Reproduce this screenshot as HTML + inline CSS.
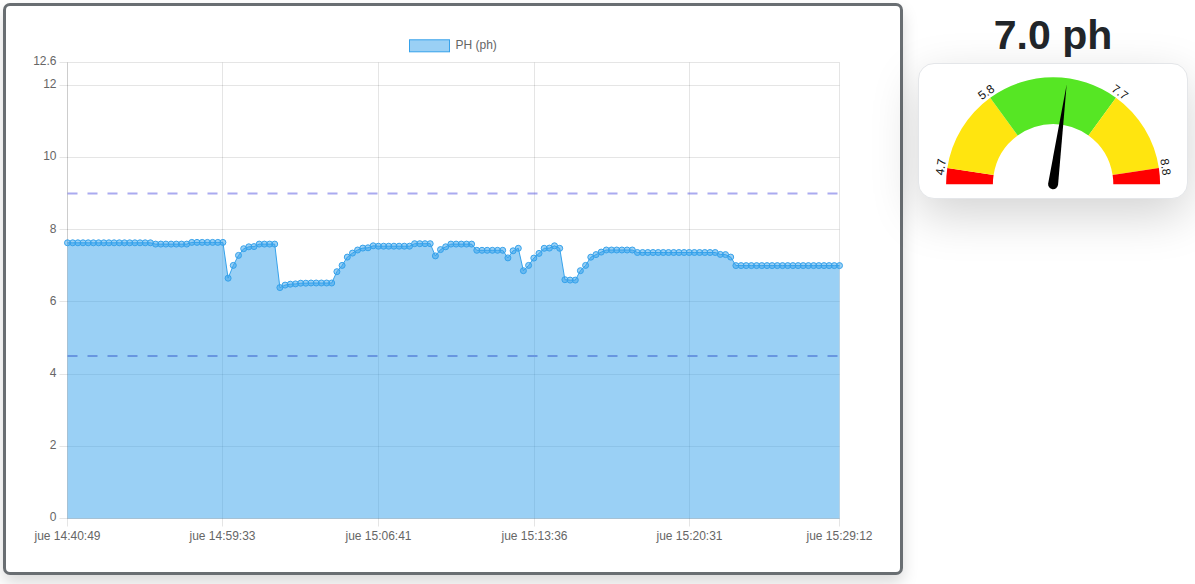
<!DOCTYPE html>
<html lang="es"><head><meta charset="utf-8"><title>PH</title>
<style>
html,body{margin:0;padding:0;background:#fff;}
body{width:1195px;height:584px;position:relative;overflow:hidden;font-family:"Liberation Sans",sans-serif;}
.chartbox{position:absolute;left:3px;top:3px;width:894px;height:566px;border:3px solid #696e72;border-radius:7px;background:#fff;box-shadow:0 8px 16px rgba(0,0,0,.15);}
.card{position:absolute;left:918px;top:63px;width:268px;height:134px;border:1px solid #e4e6e9;border-radius:16px;background:#fff;box-shadow:0 16px 48px rgba(0,0,0,.175);}
h1{position:absolute;left:919px;top:11px;width:268px;margin:0;text-align:center;font-size:41px;line-height:48px;font-weight:700;color:#212529;}
.t{font:12px "Liberation Sans",sans-serif;fill:#666;}
.g{font:12px "Liberation Sans",sans-serif;fill:#111;}
</style></head><body>
<div class="chartbox"></div>
<div class="card"></div>
<h1>7.0 ph</h1>
<svg width="1195" height="584" viewBox="0 0 1195 584" style="position:absolute;left:0;top:0">
<line x1="59.5" x2="839.5" y1="518.5" y2="518.5" stroke="rgba(0,0,0,0.1)" stroke-width="1"/>
<text x="56.5" y="521.4" text-anchor="end" class="t">0</text>
<line x1="59.5" x2="839.5" y1="446.5" y2="446.5" stroke="rgba(0,0,0,0.1)" stroke-width="1"/>
<text x="56.5" y="449.2" text-anchor="end" class="t">2</text>
<line x1="59.5" x2="839.5" y1="374.5" y2="374.5" stroke="rgba(0,0,0,0.1)" stroke-width="1"/>
<text x="56.5" y="377.0" text-anchor="end" class="t">4</text>
<line x1="59.5" x2="839.5" y1="301.5" y2="301.5" stroke="rgba(0,0,0,0.1)" stroke-width="1"/>
<text x="56.5" y="304.8" text-anchor="end" class="t">6</text>
<line x1="59.5" x2="839.5" y1="229.5" y2="229.5" stroke="rgba(0,0,0,0.1)" stroke-width="1"/>
<text x="56.5" y="232.6" text-anchor="end" class="t">8</text>
<line x1="59.5" x2="839.5" y1="157.5" y2="157.5" stroke="rgba(0,0,0,0.1)" stroke-width="1"/>
<text x="56.5" y="160.4" text-anchor="end" class="t">10</text>
<line x1="59.5" x2="839.5" y1="85.5" y2="85.5" stroke="rgba(0,0,0,0.1)" stroke-width="1"/>
<text x="56.5" y="88.2" text-anchor="end" class="t">12</text>
<line x1="59.5" x2="839.5" y1="62.5" y2="62.5" stroke="rgba(0,0,0,0.1)" stroke-width="1"/>
<text x="56.5" y="64.8" text-anchor="end" class="t">12.6</text>
<line x1="67.5" x2="67.5" y1="62.5" y2="526.5" stroke="rgba(0,0,0,0.1)" stroke-width="1"/>
<text x="67.5" y="539.6" text-anchor="middle" class="t">jue 14:40:49</text>
<line x1="222.5" x2="222.5" y1="62.5" y2="526.5" stroke="rgba(0,0,0,0.1)" stroke-width="1"/>
<text x="222.5" y="539.6" text-anchor="middle" class="t">jue 14:59:33</text>
<line x1="378.5" x2="378.5" y1="62.5" y2="526.5" stroke="rgba(0,0,0,0.1)" stroke-width="1"/>
<text x="378.5" y="539.6" text-anchor="middle" class="t">jue 15:06:41</text>
<line x1="534.5" x2="534.5" y1="62.5" y2="526.5" stroke="rgba(0,0,0,0.1)" stroke-width="1"/>
<text x="534.5" y="539.6" text-anchor="middle" class="t">jue 15:13:36</text>
<line x1="689.5" x2="689.5" y1="62.5" y2="526.5" stroke="rgba(0,0,0,0.1)" stroke-width="1"/>
<text x="689.5" y="539.6" text-anchor="middle" class="t">jue 15:20:31</text>
<line x1="839.5" x2="839.5" y1="62.5" y2="526.5" stroke="rgba(0,0,0,0.1)" stroke-width="1"/>
<text x="839.5" y="539.6" text-anchor="middle" class="t">jue 15:29:12</text>
<line x1="67.5" x2="67.5" y1="62.5" y2="518.5" stroke="rgba(0,0,0,0.1)" stroke-width="1"/>
<line x1="67.5" x2="839.5" y1="518.5" y2="518.5" stroke="rgba(0,0,0,0.1)" stroke-width="1"/>
<path d="M67.5,242.8 L72.7,242.8 L77.9,242.8 L83.0,242.8 L88.2,242.8 L93.4,242.8 L98.6,242.8 L103.8,242.8 L108.9,242.8 L114.1,242.8 L119.3,242.8 L124.5,242.8 L129.7,242.8 L134.9,242.8 L140.0,242.8 L145.2,242.8 L150.4,242.8 L155.6,244.1 L160.8,244.1 L165.9,244.1 L171.1,244.1 L176.3,244.1 L181.5,244.1 L186.7,244.1 L191.8,242.4 L197.0,242.4 L202.2,242.4 L207.4,242.4 L212.6,242.4 L217.8,242.4 L222.9,242.4 L228.1,278.2 L233.3,265.4 L238.5,255.4 L243.7,248.7 L248.8,246.8 L254.0,246.6 L259.2,244.1 L264.4,244.1 L269.6,244.1 L274.7,244.1 L279.9,287.6 L285.1,285.1 L290.3,284.2 L295.5,283.9 L300.7,283.2 L305.8,283.2 L311.0,283.0 L316.2,283.0 L321.4,283.0 L326.6,283.0 L331.7,283.0 L336.9,271.7 L342.1,265.4 L347.3,257.1 L352.5,253.1 L357.6,250.0 L362.8,248.1 L368.0,247.8 L373.2,245.8 L378.4,246.2 L383.6,246.2 L388.7,246.2 L393.9,246.2 L399.1,246.2 L404.3,246.2 L409.5,246.2 L414.6,243.7 L419.8,243.7 L425.0,243.7 L430.2,243.7 L435.4,255.9 L440.5,249.6 L445.7,246.8 L450.9,244.1 L456.1,244.1 L461.3,244.1 L466.5,244.1 L471.6,244.1 L476.8,250.3 L482.0,250.3 L487.2,250.3 L492.4,250.3 L497.5,250.3 L502.7,250.3 L507.9,257.9 L513.1,250.8 L518.3,248.3 L523.4,270.7 L528.6,265.4 L533.8,258.1 L539.0,253.4 L544.2,248.3 L549.4,248.1 L554.5,245.8 L559.7,248.3 L564.9,279.7 L570.1,280.1 L575.3,280.1 L580.4,270.7 L585.6,265.4 L590.8,257.2 L596.0,254.6 L601.2,252.1 L606.3,250.0 L611.5,250.0 L616.7,250.0 L621.9,250.0 L627.1,250.0 L632.3,250.0 L637.4,252.5 L642.6,252.5 L647.8,252.5 L653.0,252.5 L658.2,252.5 L663.3,252.5 L668.5,252.5 L673.7,252.5 L678.9,252.5 L684.1,252.5 L689.2,252.5 L694.4,252.5 L699.6,252.5 L704.8,252.5 L710.0,252.5 L715.2,252.5 L720.3,254.4 L725.5,254.6 L730.7,257.1 L735.9,265.6 L741.1,265.6 L746.2,265.6 L751.4,265.6 L756.6,265.6 L761.8,265.6 L767.0,265.6 L772.1,265.6 L777.3,265.6 L782.5,265.6 L787.7,265.6 L792.9,265.6 L798.1,265.6 L803.2,265.6 L808.4,265.6 L813.6,265.6 L818.8,265.6 L824.0,265.6 L829.1,265.6 L834.3,265.6 L839.5,265.6 L839.5,518.5 L67.5,518.5 Z" fill="rgba(54,162,235,0.5)"/>
<path d="M67.5,242.8 L72.7,242.8 L77.9,242.8 L83.0,242.8 L88.2,242.8 L93.4,242.8 L98.6,242.8 L103.8,242.8 L108.9,242.8 L114.1,242.8 L119.3,242.8 L124.5,242.8 L129.7,242.8 L134.9,242.8 L140.0,242.8 L145.2,242.8 L150.4,242.8 L155.6,244.1 L160.8,244.1 L165.9,244.1 L171.1,244.1 L176.3,244.1 L181.5,244.1 L186.7,244.1 L191.8,242.4 L197.0,242.4 L202.2,242.4 L207.4,242.4 L212.6,242.4 L217.8,242.4 L222.9,242.4 L228.1,278.2 L233.3,265.4 L238.5,255.4 L243.7,248.7 L248.8,246.8 L254.0,246.6 L259.2,244.1 L264.4,244.1 L269.6,244.1 L274.7,244.1 L279.9,287.6 L285.1,285.1 L290.3,284.2 L295.5,283.9 L300.7,283.2 L305.8,283.2 L311.0,283.0 L316.2,283.0 L321.4,283.0 L326.6,283.0 L331.7,283.0 L336.9,271.7 L342.1,265.4 L347.3,257.1 L352.5,253.1 L357.6,250.0 L362.8,248.1 L368.0,247.8 L373.2,245.8 L378.4,246.2 L383.6,246.2 L388.7,246.2 L393.9,246.2 L399.1,246.2 L404.3,246.2 L409.5,246.2 L414.6,243.7 L419.8,243.7 L425.0,243.7 L430.2,243.7 L435.4,255.9 L440.5,249.6 L445.7,246.8 L450.9,244.1 L456.1,244.1 L461.3,244.1 L466.5,244.1 L471.6,244.1 L476.8,250.3 L482.0,250.3 L487.2,250.3 L492.4,250.3 L497.5,250.3 L502.7,250.3 L507.9,257.9 L513.1,250.8 L518.3,248.3 L523.4,270.7 L528.6,265.4 L533.8,258.1 L539.0,253.4 L544.2,248.3 L549.4,248.1 L554.5,245.8 L559.7,248.3 L564.9,279.7 L570.1,280.1 L575.3,280.1 L580.4,270.7 L585.6,265.4 L590.8,257.2 L596.0,254.6 L601.2,252.1 L606.3,250.0 L611.5,250.0 L616.7,250.0 L621.9,250.0 L627.1,250.0 L632.3,250.0 L637.4,252.5 L642.6,252.5 L647.8,252.5 L653.0,252.5 L658.2,252.5 L663.3,252.5 L668.5,252.5 L673.7,252.5 L678.9,252.5 L684.1,252.5 L689.2,252.5 L694.4,252.5 L699.6,252.5 L704.8,252.5 L710.0,252.5 L715.2,252.5 L720.3,254.4 L725.5,254.6 L730.7,257.1 L735.9,265.6 L741.1,265.6 L746.2,265.6 L751.4,265.6 L756.6,265.6 L761.8,265.6 L767.0,265.6 L772.1,265.6 L777.3,265.6 L782.5,265.6 L787.7,265.6 L792.9,265.6 L798.1,265.6 L803.2,265.6 L808.4,265.6 L813.6,265.6 L818.8,265.6 L824.0,265.6 L829.1,265.6 L834.3,265.6 L839.5,265.6" fill="none" stroke="rgb(54,162,235)" stroke-width="1" stroke-linejoin="round"/>
<line x1="67.5" x2="839.5" y1="193.6" y2="193.6" stroke="rgba(85,85,225,0.5)" stroke-width="2" stroke-dasharray="10 10"/>
<line x1="67.5" x2="839.5" y1="356.0" y2="356.0" stroke="#6896e0" stroke-width="2" stroke-dasharray="10 10"/>
<g fill="rgba(54,162,235,0.5)" stroke="rgb(54,162,235)" stroke-width="1">
<circle cx="67.5" cy="242.8" r="3"/>
<circle cx="72.7" cy="242.8" r="3"/>
<circle cx="77.9" cy="242.8" r="3"/>
<circle cx="83.0" cy="242.8" r="3"/>
<circle cx="88.2" cy="242.8" r="3"/>
<circle cx="93.4" cy="242.8" r="3"/>
<circle cx="98.6" cy="242.8" r="3"/>
<circle cx="103.8" cy="242.8" r="3"/>
<circle cx="108.9" cy="242.8" r="3"/>
<circle cx="114.1" cy="242.8" r="3"/>
<circle cx="119.3" cy="242.8" r="3"/>
<circle cx="124.5" cy="242.8" r="3"/>
<circle cx="129.7" cy="242.8" r="3"/>
<circle cx="134.9" cy="242.8" r="3"/>
<circle cx="140.0" cy="242.8" r="3"/>
<circle cx="145.2" cy="242.8" r="3"/>
<circle cx="150.4" cy="242.8" r="3"/>
<circle cx="155.6" cy="244.1" r="3"/>
<circle cx="160.8" cy="244.1" r="3"/>
<circle cx="165.9" cy="244.1" r="3"/>
<circle cx="171.1" cy="244.1" r="3"/>
<circle cx="176.3" cy="244.1" r="3"/>
<circle cx="181.5" cy="244.1" r="3"/>
<circle cx="186.7" cy="244.1" r="3"/>
<circle cx="191.8" cy="242.4" r="3"/>
<circle cx="197.0" cy="242.4" r="3"/>
<circle cx="202.2" cy="242.4" r="3"/>
<circle cx="207.4" cy="242.4" r="3"/>
<circle cx="212.6" cy="242.4" r="3"/>
<circle cx="217.8" cy="242.4" r="3"/>
<circle cx="222.9" cy="242.4" r="3"/>
<circle cx="228.1" cy="278.2" r="3"/>
<circle cx="233.3" cy="265.4" r="3"/>
<circle cx="238.5" cy="255.4" r="3"/>
<circle cx="243.7" cy="248.7" r="3"/>
<circle cx="248.8" cy="246.8" r="3"/>
<circle cx="254.0" cy="246.6" r="3"/>
<circle cx="259.2" cy="244.1" r="3"/>
<circle cx="264.4" cy="244.1" r="3"/>
<circle cx="269.6" cy="244.1" r="3"/>
<circle cx="274.7" cy="244.1" r="3"/>
<circle cx="279.9" cy="287.6" r="3"/>
<circle cx="285.1" cy="285.1" r="3"/>
<circle cx="290.3" cy="284.2" r="3"/>
<circle cx="295.5" cy="283.9" r="3"/>
<circle cx="300.7" cy="283.2" r="3"/>
<circle cx="305.8" cy="283.2" r="3"/>
<circle cx="311.0" cy="283.0" r="3"/>
<circle cx="316.2" cy="283.0" r="3"/>
<circle cx="321.4" cy="283.0" r="3"/>
<circle cx="326.6" cy="283.0" r="3"/>
<circle cx="331.7" cy="283.0" r="3"/>
<circle cx="336.9" cy="271.7" r="3"/>
<circle cx="342.1" cy="265.4" r="3"/>
<circle cx="347.3" cy="257.1" r="3"/>
<circle cx="352.5" cy="253.1" r="3"/>
<circle cx="357.6" cy="250.0" r="3"/>
<circle cx="362.8" cy="248.1" r="3"/>
<circle cx="368.0" cy="247.8" r="3"/>
<circle cx="373.2" cy="245.8" r="3"/>
<circle cx="378.4" cy="246.2" r="3"/>
<circle cx="383.6" cy="246.2" r="3"/>
<circle cx="388.7" cy="246.2" r="3"/>
<circle cx="393.9" cy="246.2" r="3"/>
<circle cx="399.1" cy="246.2" r="3"/>
<circle cx="404.3" cy="246.2" r="3"/>
<circle cx="409.5" cy="246.2" r="3"/>
<circle cx="414.6" cy="243.7" r="3"/>
<circle cx="419.8" cy="243.7" r="3"/>
<circle cx="425.0" cy="243.7" r="3"/>
<circle cx="430.2" cy="243.7" r="3"/>
<circle cx="435.4" cy="255.9" r="3"/>
<circle cx="440.5" cy="249.6" r="3"/>
<circle cx="445.7" cy="246.8" r="3"/>
<circle cx="450.9" cy="244.1" r="3"/>
<circle cx="456.1" cy="244.1" r="3"/>
<circle cx="461.3" cy="244.1" r="3"/>
<circle cx="466.5" cy="244.1" r="3"/>
<circle cx="471.6" cy="244.1" r="3"/>
<circle cx="476.8" cy="250.3" r="3"/>
<circle cx="482.0" cy="250.3" r="3"/>
<circle cx="487.2" cy="250.3" r="3"/>
<circle cx="492.4" cy="250.3" r="3"/>
<circle cx="497.5" cy="250.3" r="3"/>
<circle cx="502.7" cy="250.3" r="3"/>
<circle cx="507.9" cy="257.9" r="3"/>
<circle cx="513.1" cy="250.8" r="3"/>
<circle cx="518.3" cy="248.3" r="3"/>
<circle cx="523.4" cy="270.7" r="3"/>
<circle cx="528.6" cy="265.4" r="3"/>
<circle cx="533.8" cy="258.1" r="3"/>
<circle cx="539.0" cy="253.4" r="3"/>
<circle cx="544.2" cy="248.3" r="3"/>
<circle cx="549.4" cy="248.1" r="3"/>
<circle cx="554.5" cy="245.8" r="3"/>
<circle cx="559.7" cy="248.3" r="3"/>
<circle cx="564.9" cy="279.7" r="3"/>
<circle cx="570.1" cy="280.1" r="3"/>
<circle cx="575.3" cy="280.1" r="3"/>
<circle cx="580.4" cy="270.7" r="3"/>
<circle cx="585.6" cy="265.4" r="3"/>
<circle cx="590.8" cy="257.2" r="3"/>
<circle cx="596.0" cy="254.6" r="3"/>
<circle cx="601.2" cy="252.1" r="3"/>
<circle cx="606.3" cy="250.0" r="3"/>
<circle cx="611.5" cy="250.0" r="3"/>
<circle cx="616.7" cy="250.0" r="3"/>
<circle cx="621.9" cy="250.0" r="3"/>
<circle cx="627.1" cy="250.0" r="3"/>
<circle cx="632.3" cy="250.0" r="3"/>
<circle cx="637.4" cy="252.5" r="3"/>
<circle cx="642.6" cy="252.5" r="3"/>
<circle cx="647.8" cy="252.5" r="3"/>
<circle cx="653.0" cy="252.5" r="3"/>
<circle cx="658.2" cy="252.5" r="3"/>
<circle cx="663.3" cy="252.5" r="3"/>
<circle cx="668.5" cy="252.5" r="3"/>
<circle cx="673.7" cy="252.5" r="3"/>
<circle cx="678.9" cy="252.5" r="3"/>
<circle cx="684.1" cy="252.5" r="3"/>
<circle cx="689.2" cy="252.5" r="3"/>
<circle cx="694.4" cy="252.5" r="3"/>
<circle cx="699.6" cy="252.5" r="3"/>
<circle cx="704.8" cy="252.5" r="3"/>
<circle cx="710.0" cy="252.5" r="3"/>
<circle cx="715.2" cy="252.5" r="3"/>
<circle cx="720.3" cy="254.4" r="3"/>
<circle cx="725.5" cy="254.6" r="3"/>
<circle cx="730.7" cy="257.1" r="3"/>
<circle cx="735.9" cy="265.6" r="3"/>
<circle cx="741.1" cy="265.6" r="3"/>
<circle cx="746.2" cy="265.6" r="3"/>
<circle cx="751.4" cy="265.6" r="3"/>
<circle cx="756.6" cy="265.6" r="3"/>
<circle cx="761.8" cy="265.6" r="3"/>
<circle cx="767.0" cy="265.6" r="3"/>
<circle cx="772.1" cy="265.6" r="3"/>
<circle cx="777.3" cy="265.6" r="3"/>
<circle cx="782.5" cy="265.6" r="3"/>
<circle cx="787.7" cy="265.6" r="3"/>
<circle cx="792.9" cy="265.6" r="3"/>
<circle cx="798.1" cy="265.6" r="3"/>
<circle cx="803.2" cy="265.6" r="3"/>
<circle cx="808.4" cy="265.6" r="3"/>
<circle cx="813.6" cy="265.6" r="3"/>
<circle cx="818.8" cy="265.6" r="3"/>
<circle cx="824.0" cy="265.6" r="3"/>
<circle cx="829.1" cy="265.6" r="3"/>
<circle cx="834.3" cy="265.6" r="3"/>
<circle cx="839.5" cy="265.6" r="3"/>
</g>
<rect x="409.5" y="39.8" width="40" height="12" fill="rgba(54,162,235,0.5)" stroke="rgb(54,162,235)" stroke-width="1"/>
<text x="455.5" y="48.6" class="t">PH (ph)</text>
<path d="M946.10,184.20 A107.0,107.0 0 0 1 947.33,168.02 L993.59,175.09 A60.2,60.2 0 0 0 992.90,184.20 Z" fill="#ff0000"/>
<path d="M947.33,168.02 A107.0,107.0 0 0 1 990.21,97.64 L1017.72,135.50 A60.2,60.2 0 0 0 993.59,175.09 Z" fill="#ffe50f"/>
<path d="M990.21,97.64 A107.0,107.0 0 0 1 1115.99,97.64 L1088.48,135.50 A60.2,60.2 0 0 0 1017.72,135.50 Z" fill="#56e624"/>
<path d="M1115.99,97.64 A107.0,107.0 0 0 1 1158.87,168.02 L1112.61,175.09 A60.2,60.2 0 0 0 1088.48,135.50 Z" fill="#ffe50f"/>
<path d="M1158.87,168.02 A107.0,107.0 0 0 1 1160.10,184.20 L1113.30,184.20 A60.2,60.2 0 0 0 1112.61,175.09 Z" fill="#ff0000"/>
<text transform="translate(940.41,166.96) rotate(-81.3)" text-anchor="middle" y="4.3" class="g">4.7</text>
<text transform="translate(986.09,91.97) rotate(-36.0)" text-anchor="middle" y="4.3" class="g">5.8</text>
<text transform="translate(1120.11,91.97) rotate(36.0)" text-anchor="middle" y="4.3" class="g">7.7</text>
<text transform="translate(1165.79,166.96) rotate(81.3)" text-anchor="middle" y="4.3" class="g">8.8</text>
<g transform="translate(1053.1,184.2) rotate(-82.26)"><path d="M0,-5.0 L100.9,0 L0,5.0 A5.0,5.0 0 0 1 0,-5.0 Z" fill="#000"/></g>
</svg>
</body></html>
